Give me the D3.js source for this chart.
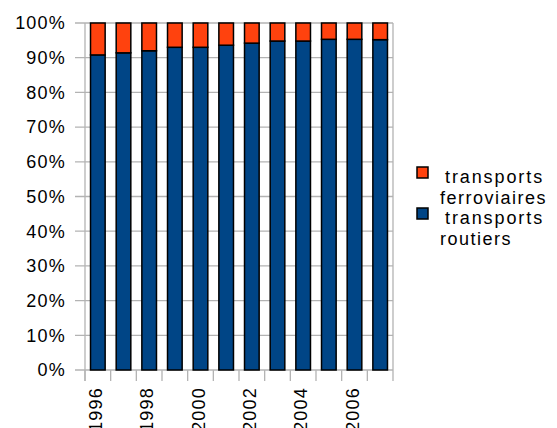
<!DOCTYPE html>
<html>
<head>
<meta charset="utf-8">
<script src="https://cdn.jsdelivr.net/npm/d3@7"></script>
<style>
  body { margin: 0; background: #fff; }
  text { font-family: "Liberation Sans", Arial, sans-serif; fill: #000; }
</style>
</head>
<body>
<div id="chart"></div>
<script>
const years = ["1996","1997","1998","1999","2000","2001","2002","2003","2004","2005","2006","2007"]
const roadShare = [90.8, 91.4, 92.0, 93.0, 93.0, 93.6, 94.2, 94.8, 94.8, 95.3, 95.3, 95.2]
const railShare = [9.2, 8.6, 8.0, 7.0, 7.0, 6.4, 5.8, 5.2, 5.2, 4.7, 4.7, 4.8]
const yTicks = [0, 10, 20, 30, 40, 50, 60, 70, 80, 90, 100]
const yearLabels = ["1996", "1998", "2000", "2002", "2004", "2006"]
const seriesNames = ["transports routiers", "transports ferroviaires"]
const colors = ["#004586", "#ff420e"]

const W = 557, H = 428
const plot = {left: 85, right: 393, top: 23, bottom: 370}

const svg = d3.select("#chart").append("svg")
    .attr("width", W)
    .attr("height", H)

const x = d3.scaleBand()
    .domain(years)
    .range([plot.left, plot.right])
    .paddingInner(0.43)
    .paddingOuter(0.215)

const y = d3.scaleLinear()
    .domain([0, 100])
    .range([plot.bottom, plot.top])

const grid = "#b3b3b3"

// gridlines + left ticks
svg.append("g")
    .selectAll("line")
    .data(yTicks)
    .enter()
    .append("line")
        .attr("x1", plot.left - 10)
        .attr("x2", plot.right)
        .attr("y1", d => y(d))
        .attr("y2", d => y(d))
        .attr("stroke", grid)
        .attr("stroke-width", 1.3)

// left axis line
svg.append("line")
    .attr("x1", plot.left).attr("x2", plot.left)
    .attr("y1", plot.top).attr("y2", plot.bottom + 11)
    .attr("stroke", grid).attr("stroke-width", 1.3)

// x ticks at band boundaries (last one runs up as the right frame)
const step = x.step()
svg.append("g")
    .selectAll("line")
    .data(d3.range(years.length + 1))
    .enter()
    .append("line")
        .attr("x1", i => plot.left + i * step)
        .attr("x2", i => plot.left + i * step)
        .attr("y1", i => i === years.length ? plot.top : plot.bottom)
        .attr("y2", plot.bottom + 11)
        .attr("stroke", grid)
        .attr("stroke-width", 1.3)

// y labels
svg.append("g")
    .selectAll("text")
    .data(yTicks)
    .enter()
    .append("text")
        .attr("x", 66)
        .attr("y", d => y(d))
        .attr("dy", "0.35em")
        .attr("text-anchor", "end")
        .attr("font-size", 18)
        .attr("letter-spacing", 1.2)
        .text(d => d + "%")

// stacked bars
const rows = years.map((yr, i) => ({year: yr, road: roadShare[i], rail: railShare[i]}))
const stack = d3.stack().keys(["road", "rail"])(rows)

svg.append("g")
    .selectAll("g")
    .data(stack)
    .enter()
    .append("g")
        .attr("fill", (d, i) => colors[i])
        .selectAll("rect")
        .data(d => d)
        .enter()
        .append("rect")
            .attr("x", d => x(d.data.year))
            .attr("width", x.bandwidth())
            .attr("y", d => y(d[1]))
            .attr("height", d => y(d[0]) - y(d[1]))
            .attr("stroke", "#000")
            .attr("stroke-width", 1.5)

// year labels (bottom of each label runs past the edge, as in the original)
svg.append("g")
    .selectAll("text")
    .data(yearLabels)
    .enter()
    .append("text")
        .attr("transform", d => `translate(${x(d) + x.bandwidth() / 2 + 4},387) rotate(-90)`)
        .attr("text-anchor", "end")
        .attr("font-size", 18)
        .attr("letter-spacing", 1.2)
        .text(d => d)

// legend
const legend = [
    {color: colors[1], lines: ["transports", "ferroviaires"], y: 167},
    {color: colors[0], lines: ["transports", "routiers"], y: 208}
]
const lg = svg.append("g")
    .selectAll("g")
    .data(legend)
    .enter()
    .append("g")

lg.append("rect")
    .attr("x", 417)
    .attr("y", d => d.y)
    .attr("width", 11)
    .attr("height", 11)
    .attr("fill", d => d.color)
    .attr("stroke", "#000")
    .attr("stroke-width", 1.5)

lg.append("text")
    .attr("x", 445)
    .attr("y", d => d.y + 16)
    .attr("font-size", 18)
    .attr("letter-spacing", 1.9)
    .text(d => d.lines[0])

lg.append("text")
    .attr("x", 440)
    .attr("y", d => d.y + 37)
    .attr("font-size", 18)
    .attr("letter-spacing", 1.5)
    .text(d => d.lines[1])
</script>
</body>
</html>
